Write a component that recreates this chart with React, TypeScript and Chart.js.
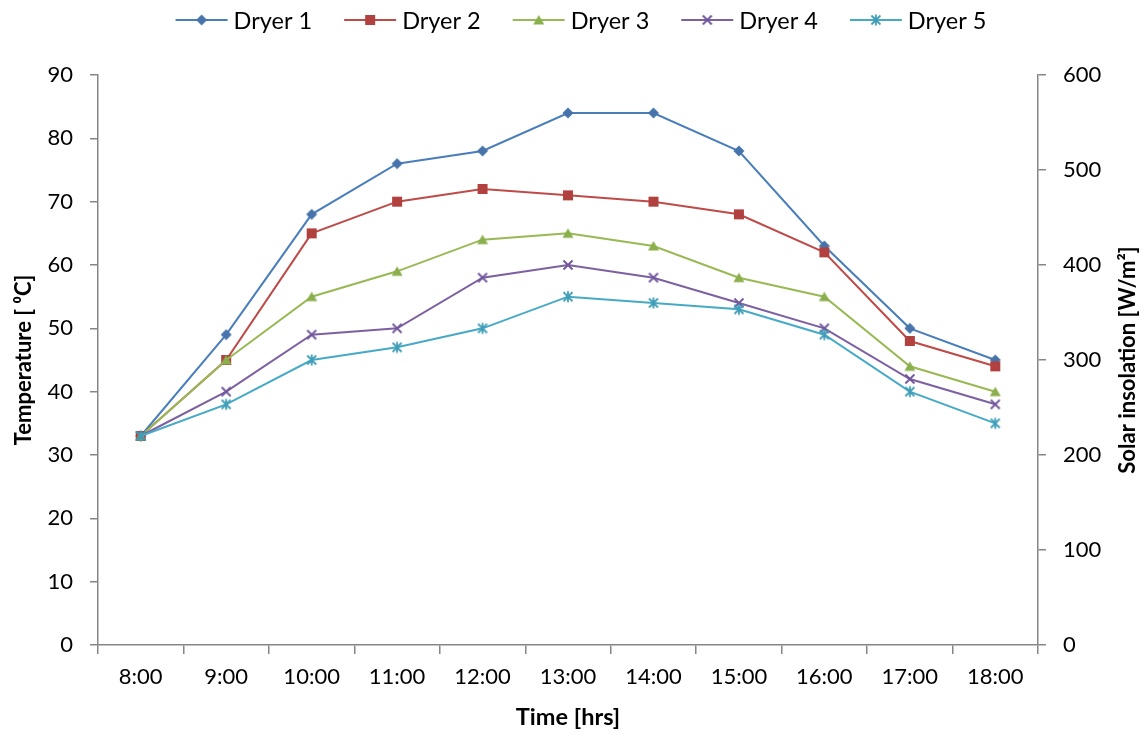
import React, { useEffect, useRef } from 'react';
import { Chart, registerables } from 'chart.js';

Chart.register(...registerables);

const categories = ['8:00', '9:00', '10:00', '11:00', '12:00', '13:00', '14:00', '15:00', '16:00', '17:00', '18:00'];
const dryer1 = [33, 49, 68, 76, 78, 84, 84, 78, 63, 50, 45];
const dryer2 = [33, 45, 65, 70, 72, 71, 70, 68, 62, 48, 44];
const dryer3 = [33, 45, 55, 59, 64, 65, 63, 58, 55, 44, 40];
const dryer4 = [33, 40, 49, 50, 58, 60, 58, 54, 50, 42, 38];
const dryer5 = [33, 38, 45, 47, 50, 55, 54, 53, 49, 40, 35];
const seriesNames = ['Dryer 1', 'Dryer 2', 'Dryer 3', 'Dryer 4', 'Dryer 5'];
const seriesValues = [dryer1, dryer2, dryer3, dryer4, dryer5];
const lineColors = ['#4A7EBB', '#BE4B48', '#98B954', '#7D60A0', '#46AAC5'];
const markerColors = ['#4674AA', '#B0413E', '#8BAF4C', '#70559A', '#3F9DB8'];
const markerShapes = ['diamond', 'square', 'triangle', 'cross', 'asterisk'];
const tempTicks = { min: 0, max: 90, step: 10 };
const solarTicks = { min: 0, max: 600, step: 100 };

const FONT = 'Lato, "Noto Sans", sans-serif';
const AXIS_COLOR = '#868686';

function makeMarker(shape: string, color: string): HTMLCanvasElement {
  const s = 16;
  const c = document.createElement('canvas');
  c.width = s;
  c.height = s;
  const ctx = c.getContext('2d')!;
  const m = s / 2;
  ctx.fillStyle = color;
  ctx.strokeStyle = color;
  ctx.lineWidth = 1.8;
  ctx.lineCap = 'butt';
  ctx.beginPath();
  if (shape === 'diamond') {
    ctx.moveTo(m, m - 5.5);
    ctx.lineTo(m + 5.5, m);
    ctx.lineTo(m, m + 5.5);
    ctx.lineTo(m - 5.5, m);
    ctx.closePath();
    ctx.fill();
  } else if (shape === 'square') {
    ctx.rect(m - 5, m - 5, 10, 10);
    ctx.fill();
  } else if (shape === 'triangle') {
    ctx.moveTo(m, m - 5);
    ctx.lineTo(m + 5.5, m + 4.5);
    ctx.lineTo(m - 5.5, m + 4.5);
    ctx.closePath();
    ctx.fill();
  } else {
    ctx.moveTo(m - 4.5, m - 4.5);
    ctx.lineTo(m + 4.5, m + 4.5);
    ctx.moveTo(m + 4.5, m - 4.5);
    ctx.lineTo(m - 4.5, m + 4.5);
    if (shape === 'asterisk') {
      ctx.moveTo(m, m - 5.5);
      ctx.lineTo(m, m + 5.5);
    }
    ctx.stroke();
  }
  return c;
}

export default function App() {
  const canvasRef = useRef<HTMLCanvasElement | null>(null);

  useEffect(() => {
    if (!canvasRef.current) return;
    const markers = markerShapes.map((sh, i) => makeMarker(sh, markerColors[i]));

    const legendPlugin = {
      id: 'customLegend',
      afterDraw(chart: any) {
        const ctx = chart.ctx as CanvasRenderingContext2D;
        ctx.save();
        ctx.font = `23.5px ${FONT}`;
        const lineLen = 52;
        const gap = 6;
        const spacing = 32;
        const widths = seriesNames.map((n) => lineLen + gap + ctx.measureText(n).width);
        const total = widths.reduce((a, b) => a + b, 0) + spacing * (seriesNames.length - 1);
        let x = 581 - total / 2;
        const y = 20;
        seriesNames.forEach((name, i) => {
          ctx.strokeStyle = lineColors[i];
          ctx.lineWidth = 2;
          ctx.beginPath();
          ctx.moveTo(x, y);
          ctx.lineTo(x + lineLen, y);
          ctx.stroke();
          ctx.drawImage(markers[i], x + lineLen / 2 - 8, y - 8);
          ctx.fillStyle = '#000';
          ctx.textAlign = 'left';
          ctx.textBaseline = 'middle';
          ctx.fillText(name, x + lineLen + gap, y + 1);
          x += widths[i] + spacing;
        });
        ctx.restore();
      },
    };

    const rightTitlePlugin = {
      id: 'rightTitle',
      afterDraw(chart: any) {
        const ctx = chart.ctx as CanvasRenderingContext2D;
        const area = chart.chartArea;
        ctx.save();
        ctx.translate(1128, (area.top + area.bottom) / 2);
        ctx.rotate(-Math.PI / 2);
        ctx.font = `bold 22px ${FONT}`;
        ctx.fillStyle = '#000';
        ctx.textAlign = 'center';
        ctx.textBaseline = 'middle';
        ctx.fillText('Solar insolation [W/m\u00B2]', 0, 0);
        ctx.restore();
      },
    };

    const chart = new Chart(canvasRef.current, {
      type: 'line',
      data: {
        labels: categories,
        datasets: seriesValues.map((vals, i) => ({
          label: seriesNames[i],
          data: vals,
          borderColor: lineColors[i],
          backgroundColor: markerColors[i],
          borderWidth: 2,
          pointStyle: markers[i],
          pointRadius: 6,
          tension: 0,
          fill: false,
          yAxisID: 'y',
          order: 4 - i,
        })),
      },
      options: {
        animation: false,
        responsive: true,
        maintainAspectRatio: false,
        layout: { padding: { top: 75, left: 0, right: 0, bottom: 0 } },
        plugins: {
          legend: { display: false },
          tooltip: { enabled: false },
          title: { display: false },
        },
        scales: {
          x: {
            type: 'category',
            offset: true,
            grid: {
              offset: true,
              drawOnChartArea: false,
              drawTicks: true,
              tickLength: 9,
              color: AXIS_COLOR,
              lineWidth: 1.5,
            },
            border: { color: AXIS_COLOR, width: 1.5 },
            ticks: {
              color: '#000',
              font: { family: FONT, size: 22 },
              padding: 10,
              maxRotation: 0,
              autoSkip: false,
            },
            title: {
              display: true,
              text: 'Time [hrs]',
              color: '#000',
              font: { family: FONT, size: 23.5, weight: 'bold' },
              padding: { top: 0, bottom: 3 },
            },
            afterFit(scale: any) {
              scale.height = 90;
            },
          },
          y: {
            type: 'linear',
            position: 'left',
            min: tempTicks.min,
            max: tempTicks.max,
            grid: {
              drawOnChartArea: false,
              drawTicks: true,
              tickLength: 8,
              color: AXIS_COLOR,
              lineWidth: 1.5,
            },
            border: { color: AXIS_COLOR, width: 1.5 },
            ticks: {
              stepSize: tempTicks.step,
              color: '#000',
              font: { family: FONT, size: 22 },
              padding: 17,
            },
            title: {
              display: true,
              text: 'Temperature [ \u2070C]',
              color: '#000',
              font: { family: FONT, size: 22, weight: 'bold' },
              padding: { top: 11, bottom: 0 },
            },
            afterFit(scale: any) {
              scale.width = 98;
            },
          },
          y2: {
            type: 'linear',
            position: 'right',
            display: true,
            min: solarTicks.min,
            max: solarTicks.max,
            grid: {
              drawOnChartArea: false,
              drawTicks: true,
              tickLength: 8,
              color: AXIS_COLOR,
              lineWidth: 1.5,
            },
            border: { color: AXIS_COLOR, width: 1.5 },
            ticks: {
              stepSize: solarTicks.step,
              color: '#000',
              font: { family: FONT, size: 22 },
              padding: 17,
            },
            afterFit(scale: any) {
              scale.width = 109;
            },
          },
        },
      },
      plugins: [legendPlugin, rightTitlePlugin],
    } as any);

    return () => chart.destroy();
  }, []);

  return (
    <div style={{ position: 'fixed', left: 0, top: 0, width: 1147, height: 735, background: '#fff' }}>
      <canvas ref={canvasRef} />
    </div>
  );
}
